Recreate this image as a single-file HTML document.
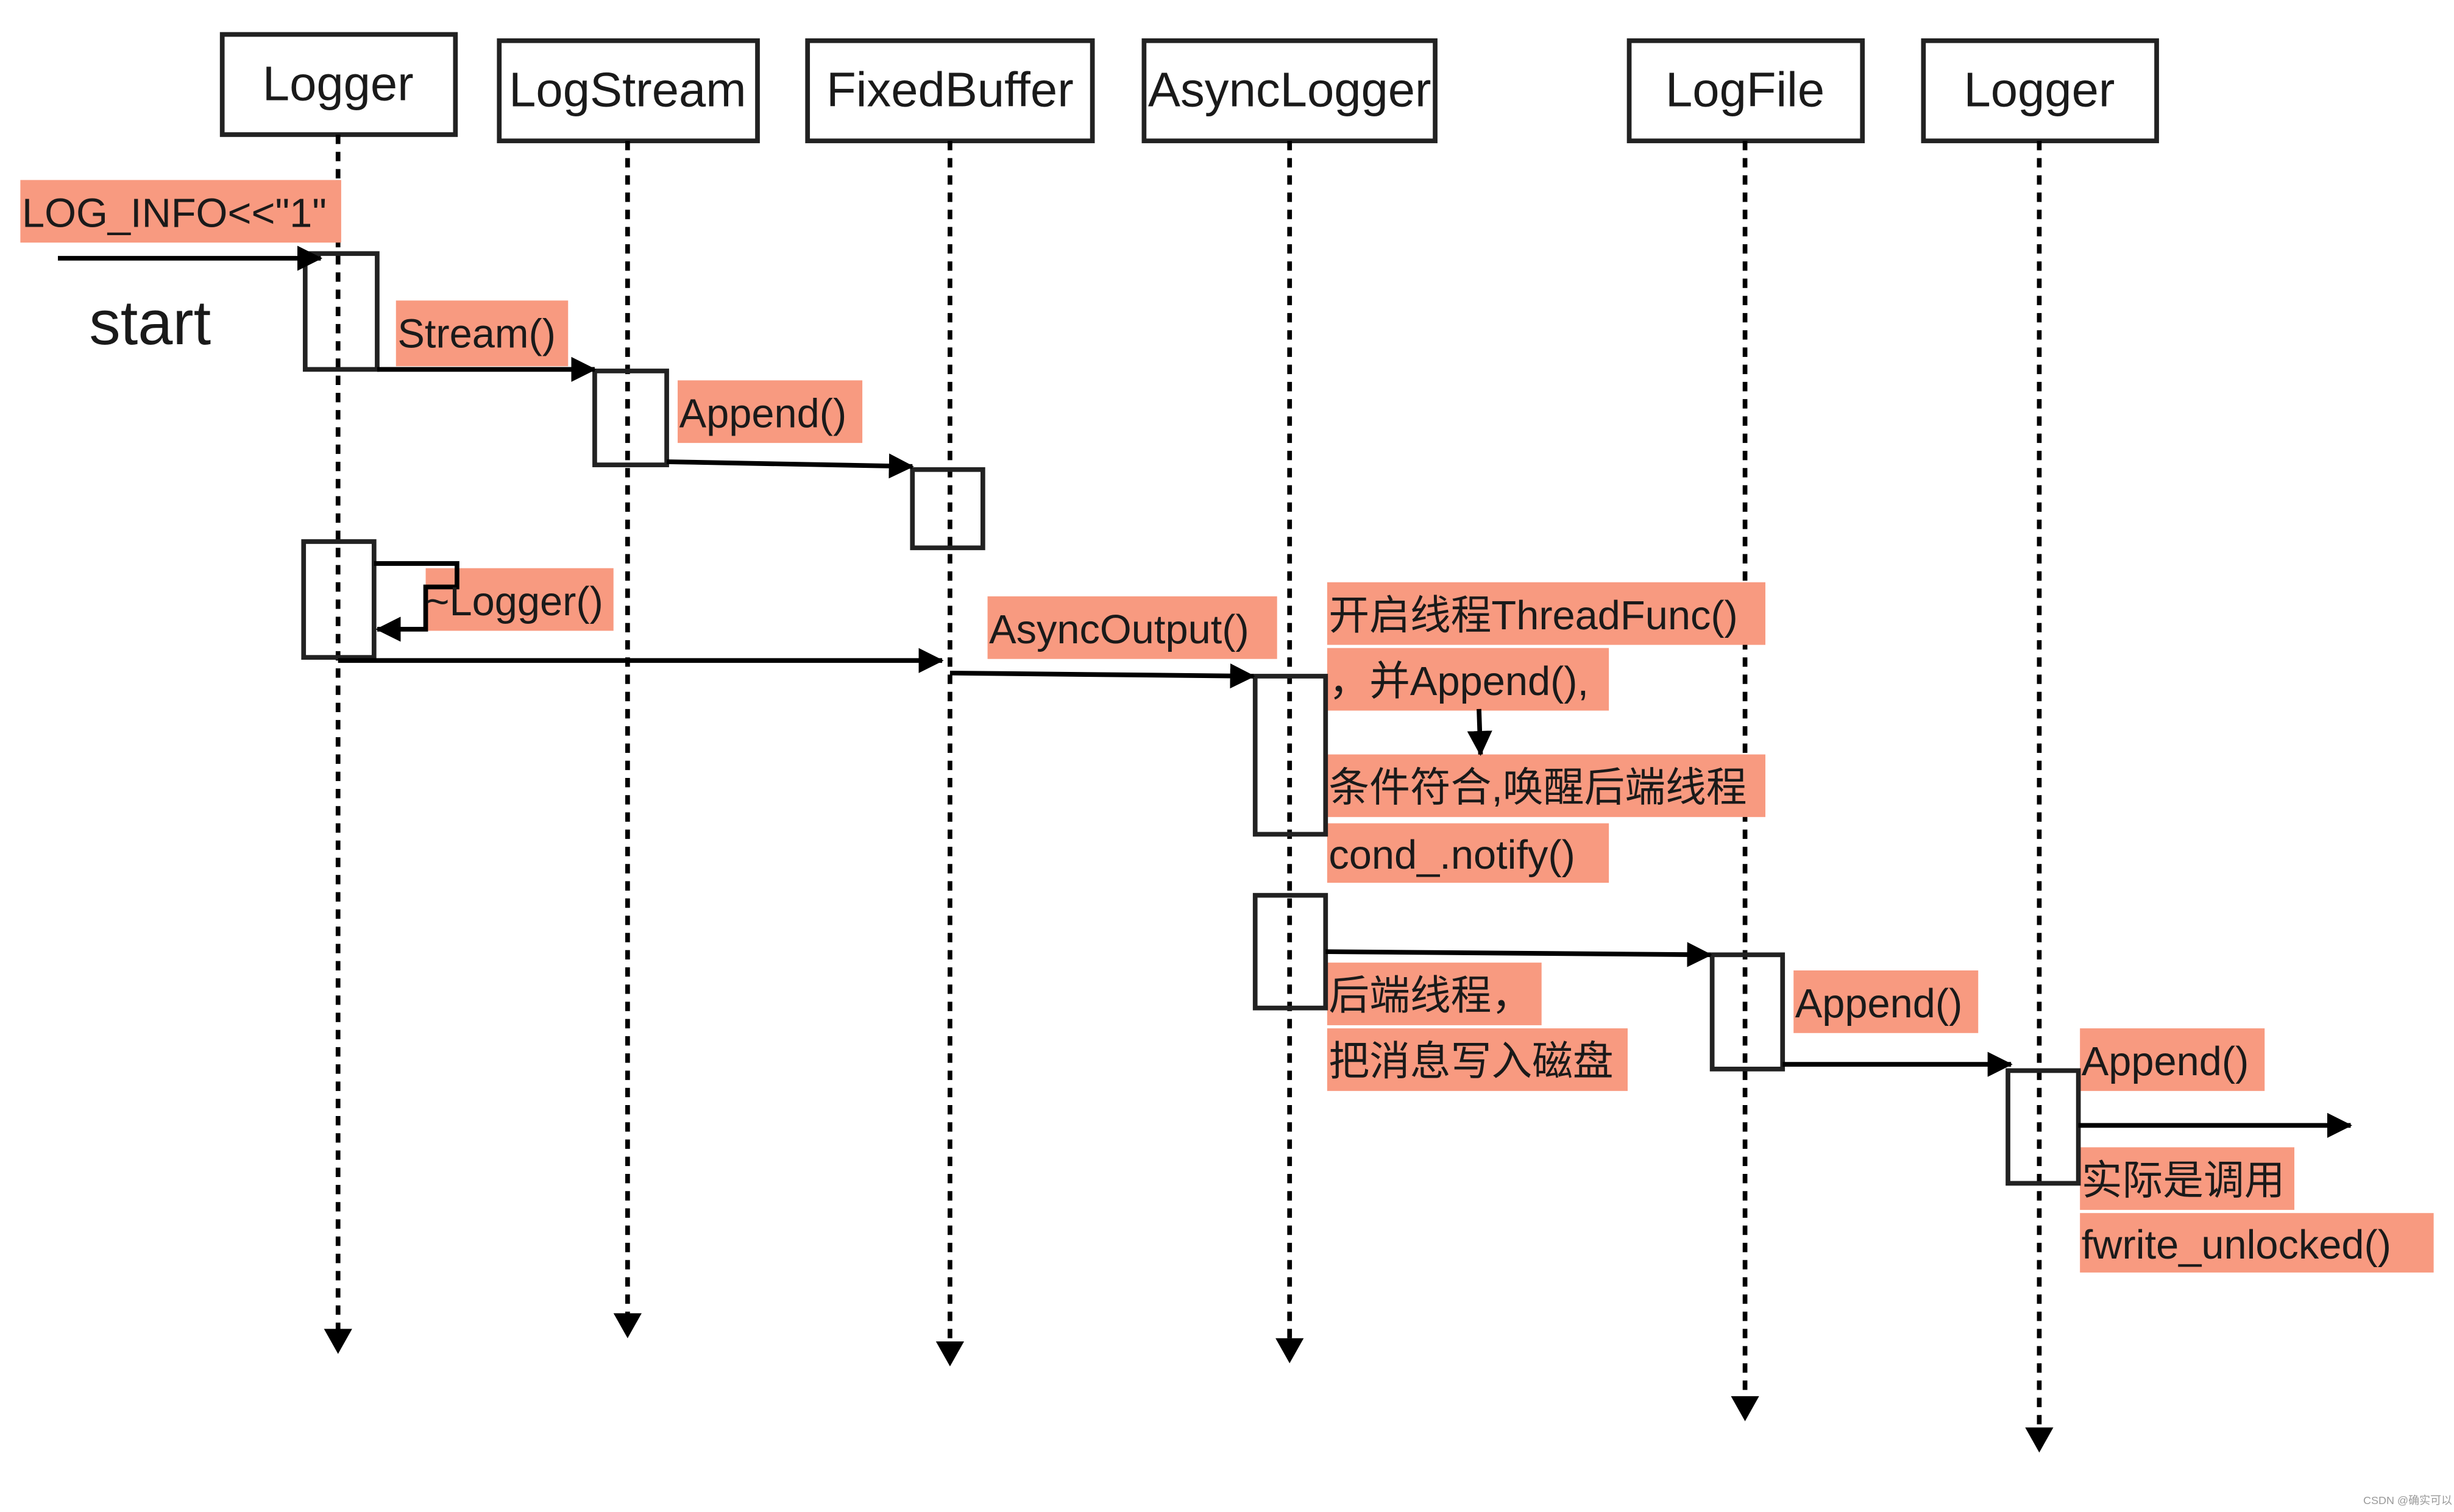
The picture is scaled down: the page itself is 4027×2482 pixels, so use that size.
<!DOCTYPE html>
<html><head><meta charset="utf-8"><style>
html,body{margin:0;padding:0;background:#fff;}
svg{display:block;}
text{font-family:"Liberation Sans","Noto Sans CJK SC",sans-serif;fill:#1a1a1a;}
</style></head><body>
<svg width="4027" height="2482" viewBox="0 0 1568 966" preserveAspectRatio="none" xmlns="http://www.w3.org/2000/svg">
<defs>
<marker id="a" markerWidth="10" markerHeight="10" refX="9" refY="5" orient="auto" markerUnits="userSpaceOnUse"><path d="M0,0 L10,5 L0,10 z" fill="#000"/></marker>
<marker id="b" markerWidth="16" markerHeight="16" refX="15" refY="8" orient="auto" markerUnits="userSpaceOnUse"><path d="M0,0 L16,8 L0,16 z" fill="#000"/></marker>
</defs>
<rect width="1568" height="966" fill="#fff"/>
<g fill="none" stroke="#222" stroke-width="3">
<rect x="142" y="22" width="149" height="64"/>
<rect x="319" y="26" width="165" height="64"/>
<rect x="516" y="26" width="182" height="64"/>
<rect x="731" y="26" width="186" height="64"/>
<rect x="1041" y="26" width="149" height="64"/>
<rect x="1229" y="26" width="149" height="64"/>
</g>
<g font-size="31" text-anchor="middle">
<text x="216" y="64">Logger</text>
<text x="401" y="68">LogStream</text>
<text x="607" y="68">FixedBuffer</text>
<text x="824" y="68">AsyncLogger</text>
<text x="1115" y="68">LogFile</text>
<text x="1303" y="68">Logger</text>
</g>
<g stroke="#000" stroke-width="3" stroke-dasharray="6,5" fill="none">
<line x1="216" y1="86" x2="216" y2="850"/>
<line x1="401" y1="90" x2="401" y2="840"/>
<line x1="607" y1="90" x2="607" y2="858"/>
<line x1="824" y1="90" x2="824" y2="856"/>
<line x1="1115" y1="90" x2="1115" y2="893"/>
<line x1="1303" y1="90" x2="1303" y2="913"/>
</g>
<g fill="#000">
<path d="M207,849 L225,849 L216,865 z"/>
<path d="M392,839 L410,839 L401,855 z"/>
<path d="M598,857 L616,857 L607,873 z"/>
<path d="M815,855 L833,855 L824,871 z"/>
<path d="M1106,892 L1124,892 L1115,908 z"/>
<path d="M1294,912 L1312,912 L1303,928 z"/>
</g>
<g fill="#F89A80">
<rect x="13" y="115" width="205" height="40"/>
<rect x="253" y="192" width="110" height="42"/>
<rect x="433" y="243" width="118" height="40"/>
<rect x="272" y="363" width="120" height="40"/>
<rect x="631" y="381" width="185" height="40"/>
<rect x="848" y="372" width="280" height="40"/>
<rect x="848" y="414" width="180" height="40"/>
<rect x="848" y="482" width="280" height="40"/>
<rect x="848" y="526" width="180" height="38"/>
<rect x="848" y="615" width="137" height="40"/>
<rect x="848" y="657" width="192" height="40"/>
<rect x="1146" y="620" width="118" height="40"/>
<rect x="1329" y="657" width="118" height="40"/>
<rect x="1329" y="733" width="137" height="40"/>
<rect x="1329" y="775" width="226" height="38"/>
</g>
<g fill="none" stroke="#222" stroke-width="3">
<rect x="195" y="162" width="46" height="74"/>
<rect x="380" y="237" width="46" height="60"/>
<rect x="583" y="300" width="45" height="50"/>
<rect x="194" y="346" width="45" height="74"/>
<rect x="802" y="432" width="45" height="101"/>
<rect x="802" y="572" width="45" height="72"/>
<rect x="1094" y="610" width="45" height="73"/>
<rect x="1283" y="684" width="45" height="72"/>
</g>
<g stroke="#000" stroke-width="3" fill="none" marker-end="url(#b)">
<line x1="37" y1="165" x2="205" y2="165"/>
<line x1="241" y1="236" x2="380" y2="236"/>
<line x1="426" y1="295" x2="583" y2="298"/>
<polyline points="239,360 292,360 292,375 272,375 272,402 241,402"/>
<line x1="216" y1="422" x2="602" y2="422"/>
<line x1="607" y1="430" x2="801" y2="432"/>
<line x1="945" y1="453" x2="946" y2="482"/>
<line x1="847" y1="608" x2="1093" y2="610"/>
<line x1="1139" y1="680" x2="1285" y2="680"/>
<line x1="1328" y1="719" x2="1502" y2="719"/>
</g>
<g font-size="26">
<text x="14" y="145">LOG_INFO&lt;&lt;"1"</text>
<text x="254" y="222">Stream()</text>
<text x="434" y="273">Append()</text>
<text x="272" y="393">~Logger()</text>
<text x="632" y="411">AsyncOutput()</text>
<text x="849" y="402">开启线程ThreadFunc()</text>
<text x="849" y="444">，并Append(),</text>
<text x="849" y="512">条件符合,唤醒后端线程</text>
<text x="849" y="555">cond_.notify()</text>
<text x="849" y="645">后端线程，</text>
<text x="849" y="687">把消息写入磁盘</text>
<text x="1147" y="650">Append()</text>
<text x="1330" y="687">Append()</text>
<text x="1330" y="763">实际是调用</text>
<text x="1330" y="804">fwrite_unlocked()</text>
</g>
<text x="57" y="220" font-size="40">start</text>
<text x="1510" y="961" font-size="7" fill="#999" style="fill:#999">CSDN @确实可以</text>
</svg>
</body></html>
